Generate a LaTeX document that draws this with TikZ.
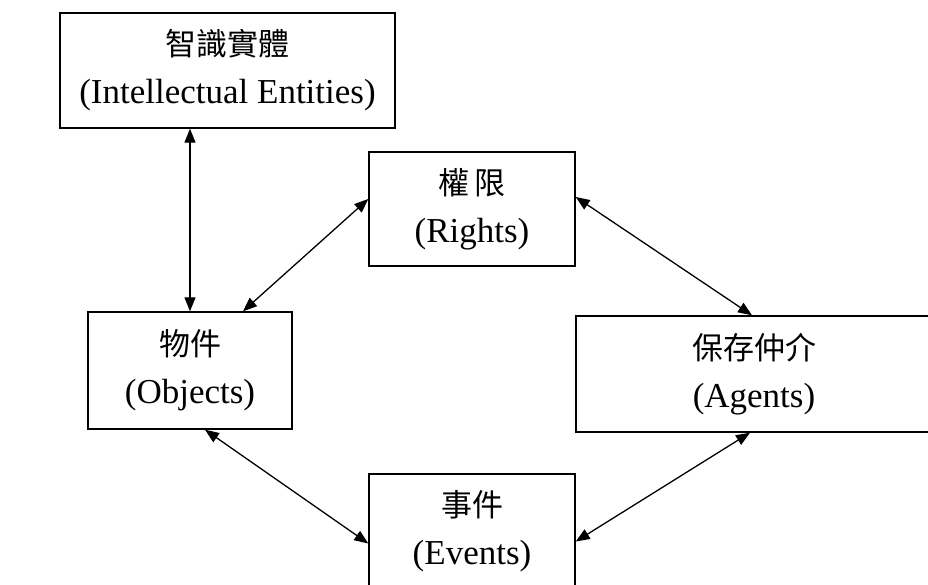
\documentclass[tikz,border=0pt]{standalone}
\usepackage{fontspec}
\setmainfont{Liberation Serif}
\newfontfamily\cjk{Noto Sans CJK TC}
\usetikzlibrary{arrows.meta}
\tikzset{
  box/.style={draw, line width=1.4pt, rectangle, inner sep=0pt, align=center,
    font=\fontsize{35}{48}\selectfont},
  link/.style={line width=1.3pt, {Triangle[length=14pt,width=11pt]}-{Triangle[length=14pt,width=11pt]}}
}
\newcommand{\zh}[1]{{\cjk\fontsize{31}{48}\selectfont #1}}
\begin{document}
\begin{tikzpicture}[x=1pt,y=-1pt]
\useasboundingbox (0,0) rectangle (928,585);
\begin{scope}
\clip (0,0) rectangle (928,585);
\node[box, minimum width=335pt, minimum height=115pt] (ie) at (227.5,70.5) {\zh{智識實體}\\(Intellectual Entities)};
\node[box, minimum width=206pt, minimum height=114pt] (rights) at (472,209) {\zh{權\,限}\\(Rights)};
\node[box, minimum width=204pt, minimum height=117pt] (obj) at (190,370.5) {\zh{物件}\\(Objects)};
\node[box, minimum width=356pt, minimum height=116pt] (agents) at (754,374) {\zh{保存仲介}\\(Agents)};
\node[box, minimum width=206pt, minimum height=115pt] (events) at (472,531.5) {\zh{事件}\\(Events)};
\end{scope}
\draw[link] (obj.north |- ie.south) -- (obj.north);
\draw[link] ([yshift=10pt]rights.west) -- ([xshift=53pt]obj.north);
\draw[link] ([yshift=12pt]rights.east) -- ([xshift=-2pt]agents.north);
\draw[link] ([xshift=15pt]obj.south) -- ([yshift=-12pt]events.west);
\draw[link] ([yshift=-10pt]events.east) -- ([xshift=-4pt]agents.south);
\end{tikzpicture}
\end{document}
